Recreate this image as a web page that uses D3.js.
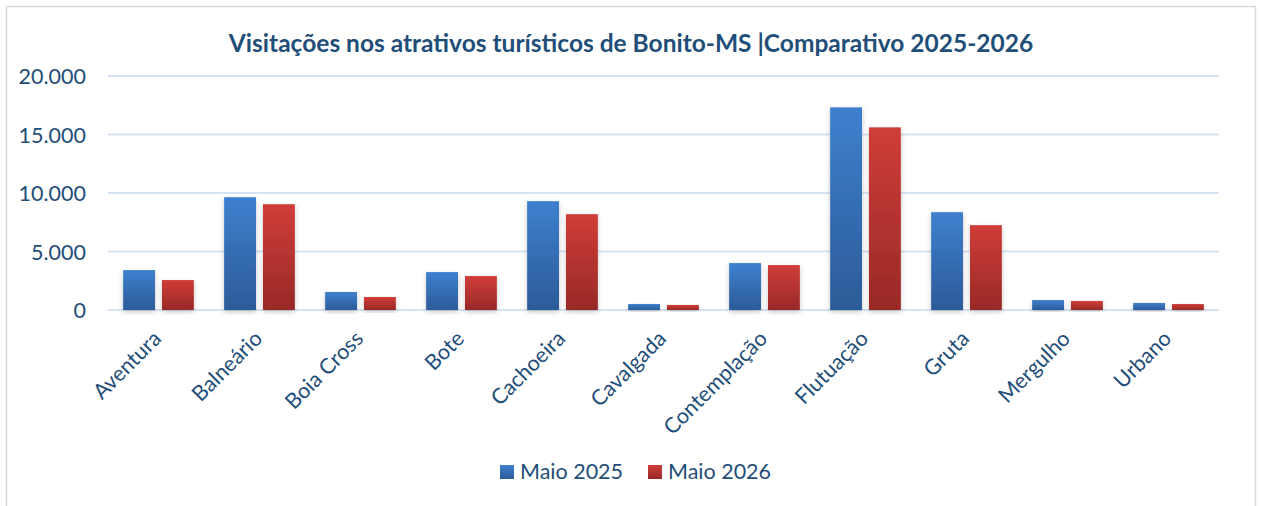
<!DOCTYPE html>
<html>
<head>
<meta charset="utf-8">
<script src="https://cdn.jsdelivr.net/npm/d3@7"></script>
<style>
  body { margin: 0; background: #fff; }
  text { font-family: Lato, "Open Sans", sans-serif; }
</style>
</head>
<body>
<svg id="chart"></svg>
<script>
// size of the page
var width = 1261,
    height = 506;

// data
var categories = ["Aventura", "Balneário", "Boia Cross", "Bote", "Cachoeira", "Cavalgada",
                  "Contemplação", "Flutuação", "Gruta", "Mergulho", "Urbano"];
var maio2025 = [3410, 9640, 1540, 3240, 9300, 510, 4010, 17320, 8360, 850, 600];
var maio2026 = [2560, 9040, 1110, 2900, 8190, 430, 3840, 15610, 7250, 770, 510];
var seriesNames = ["Maio 2025", "Maio 2026"];
var yTicks = [0, 5000, 10000, 15000, 20000];

var margin = {left: 108, right: 42, top: 76, bottom: 196};

var svg = d3.select("#chart")
    .attr("width", width)
    .attr("height", height);

// gradients + shadow
var defs = svg.append("defs");
var grads = [["gBlue", "#3e80ce", "#2c5b98"], ["gRed", "#d03d38", "#982927"]];
grads.forEach(function(g) {
  var lg = defs.append("linearGradient").attr("id", g[0])
      .attr("x1", 0).attr("y1", 0).attr("x2", 0).attr("y2", 1);
  lg.append("stop").attr("offset", "0%").attr("stop-color", g[1]);
  lg.append("stop").attr("offset", "100%").attr("stop-color", g[2]);
});
var f = defs.append("filter").attr("id", "shadow")
    .attr("x", "-30%").attr("y", "-10%").attr("width", "160%").attr("height", "130%");
f.append("feDropShadow").attr("dx", 0).attr("dy", 2).attr("stdDeviation", 2.5)
    .attr("flood-color", "#000").attr("flood-opacity", 0.22);

// chart frame
svg.append("rect")
    .attr("x", 6.5).attr("y", 6.5)
    .attr("width", 1249).attr("height", 520)
    .attr("fill", "#fff")
    .attr("stroke", "#d9d9d9")
    .attr("stroke-width", 1.5);

var x0 = d3.scaleBand()
    .domain(categories)
    .range([margin.left, width - margin.right])
    .paddingInner(0.3)
    .paddingOuter(0.15);

var x1 = d3.scaleBand()
    .domain(seriesNames)
    .range([0, x0.bandwidth()])
    .paddingInner(0.18);

var y = d3.scaleLinear()
    .domain([0, 20000])
    .range([height - margin.bottom, margin.top]);

// gridlines
svg.append("g")
  .selectAll("line")
  .data(yTicks)
  .enter()
  .append("line")
    .attr("x1", margin.left)
    .attr("x2", width - margin.right)
    .attr("y1", function(d) { return y(d); })
    .attr("y2", function(d) { return y(d); })
    .attr("stroke", "#d6e3f3")
    .attr("stroke-width", 2);

// y axis labels
var fmt = function(d) { return d3.format(",")(d).replace(/,/g, "."); };
var yAxis = svg.append("g")
    .attr("transform", "translate(" + 86 + ",0)")
    .call(d3.axisLeft(y).tickValues(yTicks).tickFormat(fmt).tickSize(0).tickPadding(0));
yAxis.select(".domain").remove();
yAxis.selectAll("text")
    .attr("fill", "#1f4e79")
    .attr("font-size", "21.5px")
    .attr("dy", "0.36em");

// bars
var colors = ["url(#gBlue)", "url(#gRed)"];
var series = [maio2025, maio2026];
var groups = svg.append("g")
  .selectAll("g")
  .data(categories)
  .enter()
  .append("g")
    .attr("transform", function(d) { return "translate(" + x0(d) + ",0)"; });

groups.selectAll("rect")
  .data(function(d, i) { return seriesNames.map(function(s, j) { return {s: s, v: series[j][i], j: j}; }); })
  .enter()
  .append("rect")
    .attr("x", function(d) { return x1(d.s); })
    .attr("y", function(d) { return y(d.v); })
    .attr("width", x1.bandwidth())
    .attr("height", function(d) { return y(0) - y(d.v); })
    .attr("fill", function(d) { return colors[d.j]; })
    .attr("filter", "url(#shadow)");

// category labels, rotated
svg.append("g")
  .selectAll("text")
  .data(categories)
  .enter()
  .append("text")
    .attr("transform", function(d) {
      return "translate(" + (x0(d) + x0.bandwidth() / 2 + 4) + "," + (y(0) + 30) + ") rotate(-45)";
    })
    .attr("text-anchor", "end")
    .attr("fill", "#1f4e79")
    .attr("font-size", "21.5px")
    .text(function(d) { return d; });

// title
svg.append("text")
    .attr("x", 631)
    .attr("y", 52)
    .attr("text-anchor", "middle")
    .attr("fill", "#1f4e79")
    .attr("font-size", "24.5px")
    .attr("font-weight", "bold")
    .text("Visitações nos atrativos turísticos de Bonito-MS |Comparativo 2025-2026");

// legend
var legendX = [500, 648];
var legend = svg.append("g")
  .selectAll("g")
  .data(seriesNames)
  .enter()
  .append("g")
    .attr("transform", function(d, i) { return "translate(" + legendX[i] + ",465)"; });
legend.append("rect")
    .attr("width", 14).attr("height", 14)
    .attr("fill", function(d, i) { return colors[i]; });
legend.append("text")
    .attr("x", 20).attr("y", 14)
    .attr("fill", "#1f4e79")
    .attr("font-size", "21.5px")
    .text(function(d) { return d; });
</script>
</body>
</html>
